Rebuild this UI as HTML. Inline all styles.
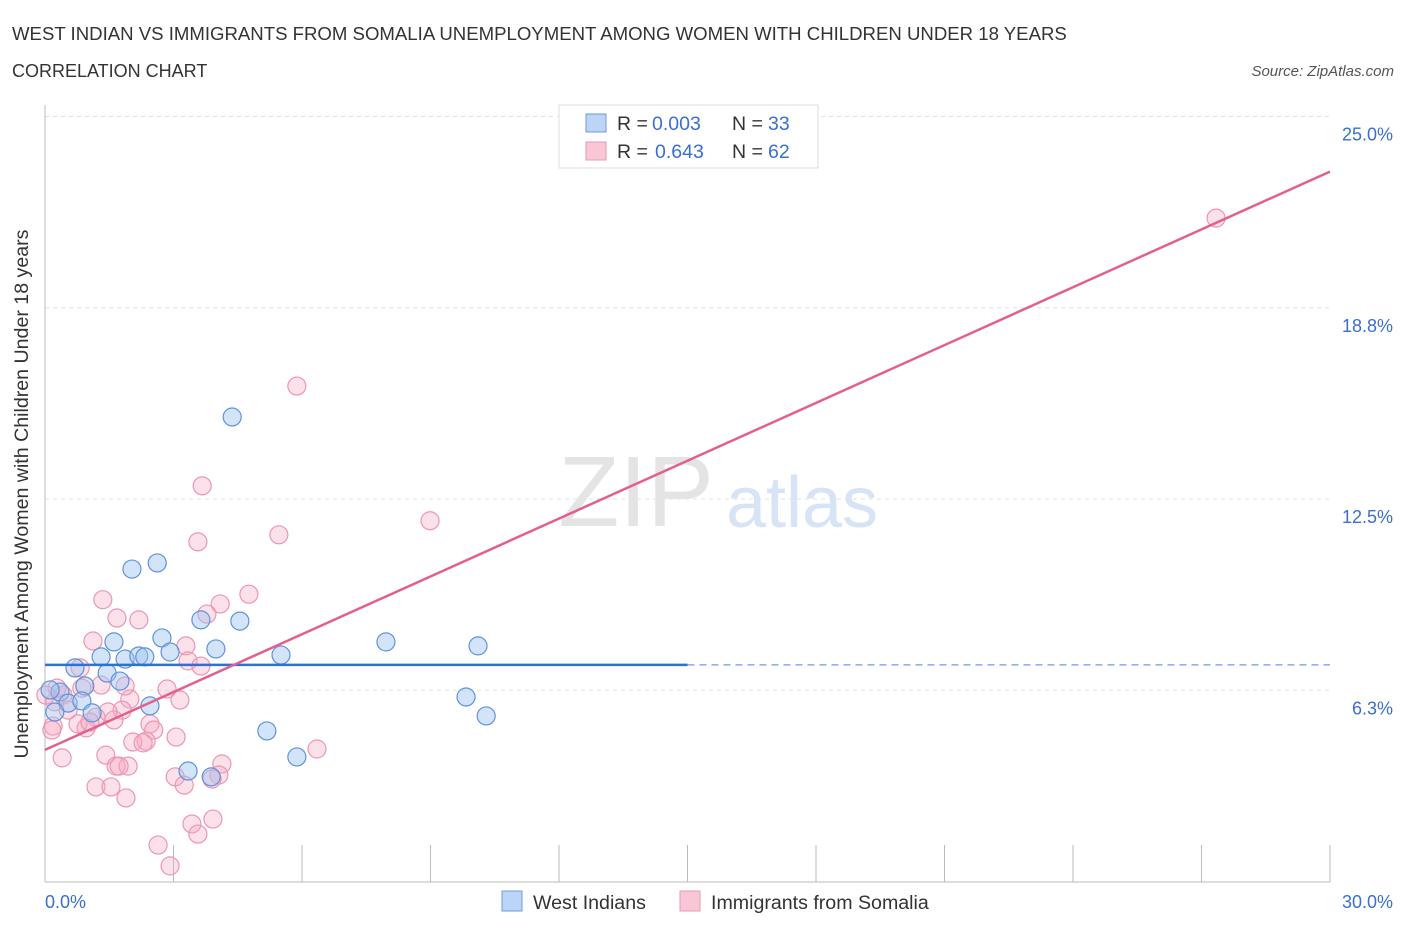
<!DOCTYPE html>
<html><head><meta charset="utf-8"><style>
body{margin:0;background:#fff;font-family:"Liberation Sans",sans-serif;}
svg text{font-family:"Liberation Sans",sans-serif;}
</style></head><body>
<svg width="1406" height="930" viewBox="0 0 1406 930">
<text x="12" y="40" font-size="18.6" fill="#333">WEST INDIAN VS IMMIGRANTS FROM SOMALIA UNEMPLOYMENT AMONG WOMEN WITH CHILDREN UNDER 18 YEARS</text>
<text x="12" y="77" font-size="18" fill="#333">CORRELATION CHART</text>
<text x="1394" y="76" font-size="15" fill="#555" font-style="italic" text-anchor="end">Source: ZipAtlas.com</text>
<g id="grid"></g>
<g><text x="636" y="526" font-size="100" fill="#e4e4e4" font-family="Liberation Serif" text-anchor="middle">ZIP</text><text x="802" y="527" font-size="72" fill="#d6e4f5" text-anchor="middle">atlas</text></g>
<g id="axes"></g>
<g id="pts"></g>
<g id="lines"></g>
<text x="28" y="494" font-size="19.6" fill="#333" text-anchor="middle" transform="rotate(-90 28 494)">Unemployment Among Women with Children Under 18 years</text>
<text x="45" y="908" font-size="18" fill="#3a6fd0">0.0%</text>
<text x="1393" y="908" font-size="18" fill="#3a6fd0" text-anchor="end">30.0%</text>
<g>
<rect x="559" y="105" width="259" height="63" fill="#fff" stroke="#ddd"/>
<rect x="586" y="114" width="20" height="18" fill="#bcd4f5" stroke="#6c9be0"/>
<rect x="586" y="142" width="20" height="18" fill="#f8c6d4" stroke="#ea9ab2"/>
<text x="617" y="130" font-size="19.5" fill="#333">R =</text><text x="652" y="130" font-size="19.5" fill="#3a6fd0">0.003</text>
<text x="732" y="130" font-size="19.5" fill="#333">N =</text><text x="768" y="130" font-size="19.5" fill="#3a6fd0">33</text>
<text x="617" y="158" font-size="19.5" fill="#333">R =</text><text x="655" y="158" font-size="19.5" fill="#3a6fd0">0.643</text>
<text x="732" y="158" font-size="19.5" fill="#333">N =</text><text x="768" y="158" font-size="19.5" fill="#3a6fd0">62</text>
</g>
<g>
<rect x="502" y="891" width="20" height="20" fill="#bcd4f5" stroke="#6c9be0"/>
<text x="533" y="909" font-size="19.6" fill="#333">West Indians</text>
<rect x="680" y="891" width="20" height="20" fill="#f8c6d4" stroke="#ea9ab2"/>
<text x="711" y="909" font-size="19.6" fill="#333">Immigrants from Somalia</text>
</g>
</svg>
<script>
const yTicks=[6.25,12.5,18.75,25];
const yTickLabels=["6.3%","12.5%","18.8%","25.0%"];
const xTicks=[0,3,6,9,12,15,18,21,24,27,30];
const blueX=[4.37,2.03,2.62,1.61,2.73,1.31,1.87,2.19,2.33,2.92,3.64,4.55,3.99,5.51,7.96,10.11,0.70,1.45,1.75,0.93,0.35,0.12,0.54,0.86,0.23,1.10,2.45,9.83,10.30,5.18,5.88,3.34,3.88];
const blueY=[15.18,10.21,10.41,7.83,7.96,7.34,7.27,7.37,7.34,7.50,8.55,8.51,7.60,7.40,7.83,7.70,6.98,6.81,6.55,6.39,6.19,6.26,5.83,5.90,5.54,5.51,5.74,6.03,5.41,4.92,4.07,3.61,3.42];
const pinkX=[27.34,5.88,3.67,8.99,5.46,3.57,4.76,1.35,4.09,3.78,1.68,2.19,1.12,3.29,3.34,3.64,0.82,1.31,2.85,3.15,0.42,0.23,1.98,1.80,1.19,0.96,0.77,2.45,2.54,2.36,2.05,0.19,3.06,0.16,6.35,0.40,1.42,1.66,1.94,3.04,3.25,4.13,4.06,3.90,1.19,1.54,1.89,3.43,3.57,3.92,2.64,2.92,2.29,1.05,0.54,0.86,0.28,1.61,1.47,0.02,1.87,1.73];
const pinkY=[21.68,16.19,12.93,11.79,11.33,11.10,9.39,9.21,9.07,8.74,8.61,8.55,7.86,7.70,7.21,7.04,6.98,6.42,6.29,5.93,6.09,5.87,5.96,5.60,5.37,5.02,5.15,5.15,4.95,4.59,4.56,5.08,4.72,4.95,4.33,4.04,4.13,3.77,3.77,3.42,3.15,3.84,3.48,3.35,3.09,3.09,2.73,1.88,1.55,2.04,1.19,0.51,4.53,5.21,5.60,6.32,6.32,5.28,5.54,6.09,6.39,3.77];
const blueLine=[7.08,7.08];
const pinkLine=[4.3,23.2];
const NS="http://www.w3.org/2000/svg";
const X=v=>45+v*(1285/30), Y=v=>881.5-v*30.6;
function mk(t,a,p){const e=document.createElementNS(NS,t);for(const k in a)e.setAttribute(k,a[k]);p.appendChild(e);return e;}
const grid=document.getElementById('grid'),axes=document.getElementById('axes'),pts=document.getElementById('pts'),lines=document.getElementById('lines');
yTicks.forEach((t,i)=>{
 const l=mk('line',{x1:45,x2:1330,y1:Y(t),y2:Y(t),stroke:'#e2e2e2','stroke-dasharray':'4,4'},grid);
 
 
 const tx=mk('text',{x:1393,y:Y(t)+24,'font-size':18,fill:'#3a6fd0','text-anchor':'end'},axes);
 tx.textContent=yTickLabels[i];
 
 
});
mk('line',{x1:45,x2:1330,y1:882,y2:882,stroke:'#bbb'},axes);
mk('line',{x1:45,x2:45,y1:105,y2:882,stroke:'#bbb'},axes);
xTicks.forEach(t=>{
 const l=mk('line',{x1:X(t),x2:X(t),y1:845,y2:882,stroke:'#bbb'},axes);
 
 
});
pinkX.forEach((v,i)=>{
 const c=mk('circle',{cx:X(v),cy:Y(pinkY[i]),r:9,fill:'rgba(245,170,195,0.35)',stroke:'#eb97b1','stroke-width':1.2},pts);
 
 
});
blueX.forEach((v,i)=>{
 const c=mk('circle',{cx:X(v),cy:Y(blueY[i]),r:9,fill:'rgba(160,195,240,0.45)',stroke:'#5f92dc','stroke-width':1.2},pts);
 
 
});
let b=mk('line',{x1:X(0),x2:X(15),y1:Y(blueLine[0]),y2:Y(blueLine[0]+(blueLine[1]-blueLine[0])/2),stroke:'#2f6fd6','stroke-width':2.5},lines);


b=mk('line',{x1:X(15),x2:X(30),y1:Y(blueLine[0]),y2:Y(blueLine[1]),stroke:'#6a9be0','stroke-width':1.3,'stroke-dasharray':'7,5'},lines);


const p=mk('line',{x1:X(0),x2:X(30),y1:Y(pinkLine[0]),y2:Y(pinkLine[1]),stroke:'#e4608c','stroke-width':2.5},lines);


</script>
</body></html>
